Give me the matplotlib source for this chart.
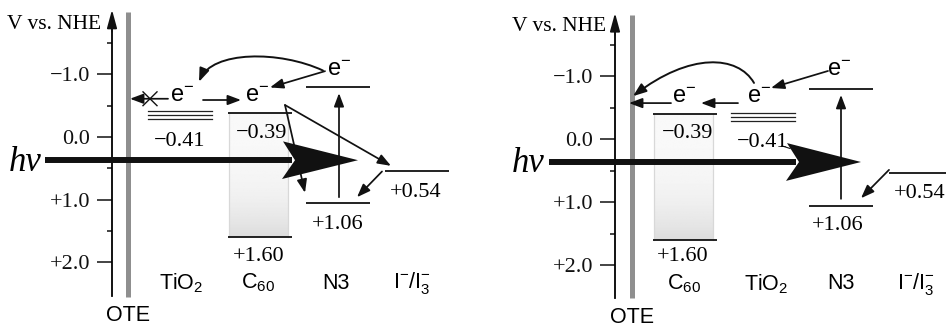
import numpy as np
import matplotlib
matplotlib.use("Agg")
import matplotlib.pyplot as plt
from matplotlib.patches import FancyArrowPatch, Polygon
from matplotlib.path import Path

plt.rcParams["font.family"] = ["Liberation Serif", "DejaVu Serif"]
plt.rcParams["mathtext.fontset"] = "custom"
plt.rcParams["mathtext.rm"] = "Liberation Sans"
plt.rcParams["mathtext.it"] = "Liberation Sans:italic"
plt.rcParams["mathtext.bf"] = "Liberation Sans:bold"

# ---- potential scale (V vs. NHE) ----
major_ticks = [-1.0, 0.0, 1.0, 2.0]
major_labels = ["\u22121.0", "0.0", "+1.0", "+2.0"]
minor_ticks = [-1.5, -0.5, 0.5, 1.5]

# ---- energy levels (V vs. NHE) ----
tio2_cb = -0.41
c60_lumo = -0.39
c60_homo = 1.60
n3_lumo = -0.80
n3_homo = 1.06
iodide = 0.54

# ---- component names ----
name_tio2 = "TiO$_2$"
name_c60 = "C$_{60}$"
name_n3 = "N3"
name_iodide = "I$^{-}$/I$_3^{-}$"

W, H = 946, 327
SANS = ["Liberation Sans", "DejaVu Sans"]
INK = "#111111"
NUM_FS = 16
NAME_FS = 15.5
E_FS = 17


def fmt(v):
    return f"{v:+.2f}".replace("-", "\u2212")


def arrow(ax, p, q, lw=1.25, hl=0.8, hw=0.3):
    ax.add_patch(FancyArrowPatch(p, q, arrowstyle=f"-|>,head_length={hl},head_width={hw}",
                                 mutation_scale=10, lw=lw, color=INK,
                                 shrinkA=0, shrinkB=0, clip_on=False, zorder=4))


def curved_arrow(ax, pts):
    path = Path(pts, [Path.MOVETO, Path.CURVE4, Path.CURVE4, Path.CURVE4])
    ax.add_patch(FancyArrowPatch(path=path, arrowstyle="-|>,head_length=0.8,head_width=0.3",
                                 mutation_scale=10, lw=1.4, color=INK, clip_on=False, zorder=4))


def level(ax, x0, v, width=64, lw=1.3):
    ax.plot([x0, x0 + width], [v, v], color=INK, lw=lw, solid_capstyle="butt")


def tio2_band(ax, x0, v):
    for k in range(3):
        ax.plot([x0, x0 + 64], [v + 0.065 * k] * 2, color="#222222", lw=0.9)


def c60_band(ax, x0, top, bottom):
    grad = np.linspace(0.0, 1.0, 80) ** 3
    img = (0.975 - 0.11 * grad)[:, None] * np.ones((1, 4))
    ax.imshow(img, extent=(x0 + 1, x0 + 60, bottom, top), cmap="gray", vmin=0, vmax=1,
              aspect="auto", interpolation="bilinear", zorder=0)
    for xe in (x0 + 1, x0 + 60):
        ax.plot([xe, xe], [top, bottom], color="#d8d8d8", lw=0.9, zorder=0.5)
    level(ax, x0, top)
    level(ax, x0, bottom)


def panel(left, right, axis_x, ote_x, axis_top, axis_bot, label_x):
    ax = fig.add_axes([left / W, 0, (right - left) / W, 1])
    ax.patch.set_alpha(0)
    for s in ("top", "right", "bottom"):
        ax.spines[s].set_visible(False)
    ax.spines["left"].set_position(("data", axis_x))
    ax.spines["left"].set_bounds(axis_top + 0.2, axis_bot)
    ax.spines["left"].set_linewidth(1.3)
    ax.set_xticks([])
    ax.set_yticks(major_ticks)
    ax.set_yticklabels(major_labels)
    ax.set_yticks(minor_ticks, minor=True)
    ax.tick_params(axis="y", which="major", direction="out", length=10.8, width=1.1,
                   pad=5, labelsize=NUM_FS, colors=INK)
    ax.tick_params(axis="y", which="minor", direction="out", length=3.8, width=1.1, colors=INK)
    arrow(ax, (axis_x, axis_top + 0.35), (axis_x, axis_top), lw=1.3, hl=1.1, hw=0.3)
    # optically transparent electrode
    ax.plot([ote_x, ote_x], [axis_top + 0.03, axis_bot + 0.01], color="#8f8f8f", lw=3.6,
            solid_capstyle="butt", zorder=1)
    ax.text(ote_x, 2.84, "OTE", family=SANS, fontsize=NAME_FS, ha="center", va="center")
    ax.text(label_x, -1.79, "V vs. NHE", fontsize=15.5, ha="left", va="center")
    return ax


def hv_arrow(ax, x_label, x_start, head_start, tip, yh):
    ax.text(x_label, yh + 0.03, "h\u03bd", fontsize=25, style="italic", ha="center", va="center")
    ax.plot([x_start, head_start + 10], [yh, yh], color=INK, lw=4.3, solid_capstyle="butt", zorder=3)
    ax.add_patch(Polygon([(head_start + 1, yh - 0.30), (tip, yh), (head_start, yh + 0.30),
                          (head_start + 13, yh)], closed=True, color=INK, lw=0, zorder=3))


fig = plt.figure(figsize=(W / 100, H / 100), dpi=100)
fig.patch.set_facecolor("white")

# ---------------- left panel: TiO2 / C60 / N3 ----------------
s1, y1 = 62.7, 137.0
ax1 = panel(0, 473, 112, 128, -2.03, 2.54, 7)
hv_arrow(ax1, 25, 45, 282, 358, 0.37)
tio2_band(ax1, 148, tio2_cb)
c60_band(ax1, 228, c60_lumo, c60_homo)
level(ax1, 306, n3_lumo)
level(ax1, 306, n3_homo)
level(ax1, 385, iodide)

ax1.text(180, 0.07, fmt(tio2_cb), fontsize=NUM_FS, ha="center", va="center")
ax1.text(262, -0.06, fmt(c60_lumo), fontsize=NUM_FS, ha="center", va="center", zorder=4)
ax1.text(259, 1.90, fmt(c60_homo), fontsize=NUM_FS, ha="center", va="center")
ax1.text(338, 1.39, fmt(n3_homo), fontsize=NUM_FS, ha="center", va="center")
ax1.text(416, 0.88, fmt(iodide), fontsize=NUM_FS, ha="center", va="center")
for xc, name in zip([181, 258, 336, 412], [name_tio2, name_c60, name_n3, name_iodide]):
    ax1.text(xc, 2.33, name, family=SANS, fontsize=NAME_FS, ha="center", va="center")
for xc, yc in [(182, -0.66), (257, -0.66), (339, -1.07)]:
    ax1.text(xc, yc, "e$^{-}$", family=SANS, fontsize=E_FS, ha="center", va="center")

arrow(ax1, (168, -0.61), (130, -0.61))
ax1.plot([143, 157], [-0.72, -0.50], color=INK, lw=1.0)
ax1.plot([143, 157], [-0.50, -0.72], color=INK, lw=1.0)
arrow(ax1, (203, -0.59), (241, -0.59))
arrow(ax1, (325, -1.05), (270, -0.79))
curved_arrow(ax1, [(323, -1.06), (280, -1.38), (212, -1.38), (199, -0.88)])
arrow(ax1, (285, -0.51), (305, 0.89))
arrow(ax1, (285, -0.51), (391, 0.46))
arrow(ax1, (382, 0.55), (357, 0.96))
arrow(ax1, (339, 0.96), (339, -0.70))

ax1.set_xlim(0, 473)
ax1.set_ylim((H - y1) / s1, -y1 / s1)

# ---------------- right panel: C60 / TiO2 / N3 ----------------
s2, y2 = 63.0, 139.0
ax2 = panel(473, 946, 615, 632, -2.0, 2.52, 512)
hv_arrow(ax2, 528, 549, 786, 861, 0.365)
c60_band(ax2, 653, c60_lumo, c60_homo)
tio2_band(ax2, 731, tio2_cb)
level(ax2, 809, n3_lumo)
level(ax2, 809, n3_homo)
level(ax2, 889, iodide)

ax2.text(688, -0.08, fmt(c60_lumo), fontsize=NUM_FS, ha="center", va="center")
ax2.text(763, 0.05, fmt(tio2_cb), fontsize=NUM_FS, ha="center", va="center", zorder=4)
ax2.plot([782, 790], [0.11, 0.15], color=INK, lw=0.8)
ax2.text(683, 1.87, fmt(c60_homo), fontsize=NUM_FS, ha="center", va="center")
ax2.text(838, 1.37, fmt(n3_homo), fontsize=NUM_FS, ha="center", va="center")
ax2.text(920, 0.87, fmt(iodide), fontsize=NUM_FS, ha="center", va="center")
for xc, name in zip([684, 766, 841, 916], [name_c60, name_tio2, name_n3, name_iodide]):
    ax2.text(xc, 2.30, name, family=SANS, fontsize=NAME_FS, ha="center", va="center")
for xc, yc in [(684, -0.67), (759, -0.67), (839, -1.10)]:
    ax2.text(xc, yc, "e$^{-}$", family=SANS, fontsize=E_FS, ha="center", va="center")

arrow(ax2, (671, -0.57), (629, -0.57))
arrow(ax2, (738, -0.57), (701, -0.57))
arrow(ax2, (828, -1.08), (771, -0.81))
curved_arrow(ax2, [(754, -0.89), (738, -1.33), (690, -1.38), (633, -0.68)])
arrow(ax2, (889, 0.49), (861, 0.94))
arrow(ax2, (841, 0.95), (841, -0.70))

ax2.set_xlim(473, 946)
ax2.set_ylim((H - y2) / s2, -y2 / s2)

fig.savefig("out.png", dpi=100, facecolor="white")
